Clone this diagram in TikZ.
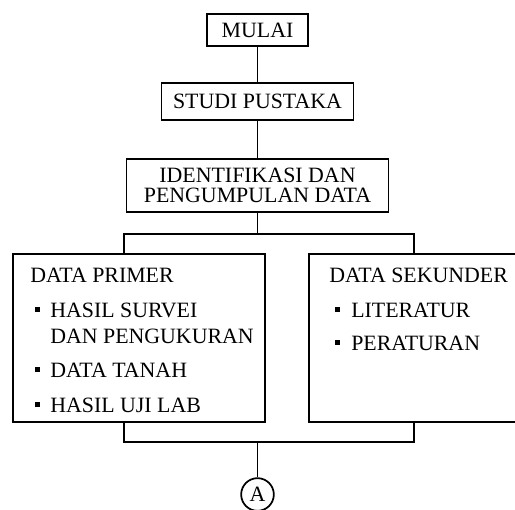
\documentclass[tikz,border=0pt]{standalone}
\usepackage{fontspec}
\setmainfont{Liberation Serif}
\usetikzlibrary{calc,positioning}

\newcommand{\kotak}{\rule[3.6pt]{3.8pt}{3.8pt}}
\tikzset{
  teks/.style={font=\fontsize{16.4}{15}\selectfont},
  box/.style={teks, draw, line width=1.4pt, inner sep=0pt, align=center},
  butir/.style={teks, anchor=base west, inner sep=0pt},
  wire/.style={line width=1.3pt}
}

\begin{document}
\begin{tikzpicture}[x=0.75pt,y=-0.75pt]
\useasboundingbox (0,0) rectangle (515,510);
% kotak utama
\node[box, minimum width=75.75pt, minimum height=24pt] (mulai) at (257.5,30) {MULAI};
\node[box, minimum width=144pt, minimum height=27.75pt] (studi) at (257.5,101.5) {STUDI PUSTAKA};
\node[box, minimum width=196.5pt, minimum height=39.75pt] (ident) at (257.5,185.5) {IDENTIFIKASI DAN\\PENGUMPULAN DATA};
\node[box, minimum width=189pt, minimum height=126pt] (primer) at (139,338) {};
\node[box, minimum width=157.5pt, minimum height=126pt] (sekunder) at (414,338) {};
\node[teks, draw, circle, line width=1.3pt, minimum size=24.5pt, inner sep=0pt] (A) at (257.5,494.5) {A};
% isi data primer
\node[butir] (judulP) at (30,282) {DATA PRIMER};
\node[butir] (p1) at (35,317) {\makebox[11.25pt][l]{\kotak}HASIL SURVEI};
\node[butir] (p1b) at (50,344) {DAN PENGUKURAN};
\node[butir] (p2) at (35,377) {\makebox[11.25pt][l]{\kotak}DATA TANAH};
\node[butir] (p3) at (35,412) {\makebox[11.25pt][l]{\kotak}HASIL UJI LAB};
% isi data sekunder
\node[butir] (judulS) at (329,282) {DATA SEKUNDER};
\node[butir] (s1) at (335,317) {\makebox[12pt][l]{\kotak}LITERATUR};
\node[butir] (s2) at (335,350) {\makebox[12pt][l]{\kotak}PERATURAN};
% garis
\coordinate (cabang) at (257.5,234);
\coordinate (gabung) at (257.5,442);
\draw[wire] (mulai) -- (studi);
\draw[wire] (studi) -- (ident);
\draw[wire] (ident) -- (cabang);
\draw[wire] ($(primer.north)+(-15,0)$) |- (cabang) -| (sekunder.north);
\draw[wire] ($(primer.south)+(-15,0)$) |- (gabung) -| (sekunder.south);
\draw[wire] (gabung) -- (A);
\end{tikzpicture}
\end{document}
